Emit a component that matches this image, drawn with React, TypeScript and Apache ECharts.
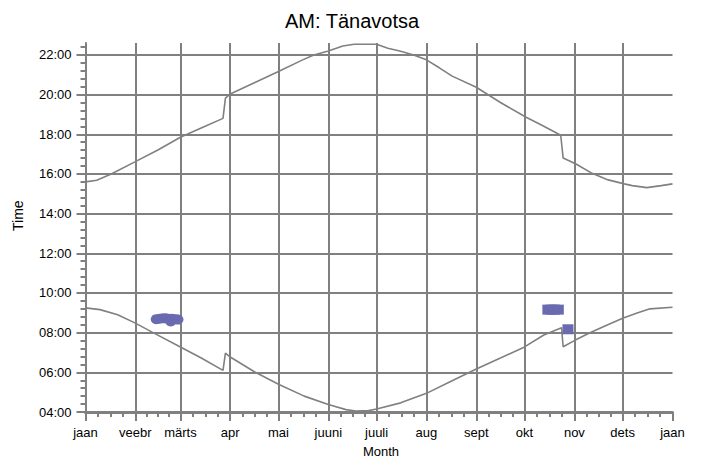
import React, { useEffect, useRef } from 'react';
import * as echarts from 'echarts';

// Month boundaries (day of year) and Estonian month labels
const monthStarts = [0, 31, 59, 90, 120, 151, 181, 212, 243, 273, 304, 334, 365];
const monthLabels = ['jaan', 'veebr', 'märts', 'apr', 'mai', 'juuni', 'juuli', 'aug', 'sept', 'okt', 'nov', 'dets', 'jaan'];
const hourTicks = [4, 6, 8, 10, 12, 14, 16, 18, 20, 22];

// Sunset (upper curve): day of year, hour
const sunsetDays = [0, 7, 16, 31, 45, 59, 73, 85.5, 87, 90, 105, 120, 135, 142, 151, 160, 167, 181, 188, 196, 204, 212, 220, 228, 243, 258, 274, 285, 295.5, 297, 305, 315, 325, 335, 340, 349, 358, 365];
const sunsetHours = [15.6, 15.68, 16.0, 16.62, 17.21, 17.85, 18.35, 18.8, 19.82, 20.03, 20.6, 21.16, 21.75, 22.0, 22.2, 22.45, 22.54, 22.54, 22.34, 22.18, 22.0, 21.75, 21.35, 20.93, 20.37, 19.6, 18.86, 18.4, 17.95, 16.8, 16.5, 16.03, 15.7, 15.5, 15.41, 15.31, 15.41, 15.5];

// Sunrise (lower curve): day of year, hour
const sunriseDays = [0, 9, 20, 31, 42, 59, 72, 85.5, 87, 90, 105, 120, 136, 151, 162, 168, 176, 181, 196, 212, 227, 243, 258, 273, 285, 296, 297, 304, 313, 323, 334, 343, 351, 365];
const sunriseHours = [9.25, 9.16, 8.9, 8.48, 8.0, 7.28, 6.72, 6.1, 6.97, 6.77, 6.03, 5.4, 4.8, 4.38, 4.12, 4.05, 4.07, 4.15, 4.46, 4.94, 5.54, 6.17, 6.72, 7.28, 7.88, 8.25, 7.29, 7.6, 7.97, 8.34, 8.73, 8.99, 9.2, 9.28];

// Observations (blue marks)
const obsSpringDays = [44, 46, 48, 50, 52, 53, 54, 56, 57.5];
const obsSpringHours = [8.68, 8.7, 8.72, 8.72, 8.7, 8.56, 8.7, 8.68, 8.66];
const obsAutumnDays = [287.5, 289.5, 291.5, 294, 300];
const obsAutumnHours = [9.16, 9.16, 9.16, 9.16, 8.17];

const FONT = 'Arial, "Liberation Sans", sans-serif';
const GRAY = '#808080';
const BLUE = '#6a6ab0';

function pairs(xs: number[], ys: number[]) {
  return xs.map((x, i) => [x, ys[i]]);
}

function minorDayTicks() {
  const out: number[] = [];
  for (let m = 0; m < 12; m++) {
    const a = monthStarts[m];
    const len = monthStarts[m + 1] - a;
    for (let k = 1; k < 4; k++) out.push(a + (len * k) / 4);
  }
  return out;
}

export default function App() {
  const ref = useRef<HTMLDivElement>(null);
  useEffect(() => {
    if (!ref.current) return;
    const chart = echarts.init(ref.current, undefined, { renderer: 'svg' });
    chart.setOption({
      animation: false,
      backgroundColor: '#ffffff',
      title: {
        text: 'AM: Tänavotsa',
        left: 'center',
        top: 6,
        textStyle: { fontFamily: FONT, fontSize: 20, fontWeight: 'normal', color: '#000' },
      },
      graphic: [
        {
          type: 'text',
          x: 11,
          y: 231,
          rotation: Math.PI / 2,
          style: { text: 'Time', fontFamily: FONT, fontSize: 14, fill: '#000' },
        },
      ],
      grid: { left: 85.5, right: 31.5, top: 43, bottom: 52, containLabel: false },
      xAxis: [
        {
          type: 'value',
          min: 0,
          max: 365,
          name: 'Month',
          nameLocation: 'middle',
          nameGap: 33,
          nameTextStyle: { fontFamily: FONT, fontSize: 13, color: '#000', padding: [0, 0, 0, 4] },
          axisLine: { show: true, lineStyle: { color: GRAY, width: 3 } },
          axisTick: { show: true, customValues: monthStarts, length: 9, lineStyle: { color: GRAY, width: 2 } },
          axisLabel: {
            show: true,
            customValues: monthStarts,
            margin: 14,
            fontFamily: FONT,
            fontSize: 13,
            color: '#000',
            formatter: (v: number) => {
              const i = monthStarts.indexOf(Math.round(v));
              return i >= 0 ? monthLabels[i] : '';
            },
          },
          splitLine: { show: true, showMaxLine: false, lineStyle: { color: GRAY, width: 2 } },
        },
        {
          type: 'value',
          min: 0,
          max: 365,
          position: 'bottom',
          axisLine: { show: false },
          axisTick: { show: true, customValues: minorDayTicks(), length: 5, lineStyle: { color: GRAY, width: 2 } },
          axisLabel: { show: false },
          splitLine: { show: false },
        },
      ],
      yAxis: {
        type: 'value',
        min: 4,
        max: 22.6,
        interval: 2,
        axisLine: { show: true, lineStyle: { color: GRAY, width: 2 } },
        axisTick: { show: true, customValues: hourTicks, length: 9, lineStyle: { color: GRAY, width: 2 } },
        minorTick: { show: true, splitNumber: 5, length: 5, lineStyle: { color: GRAY, width: 2 } },
        axisLabel: {
          show: true,
          customValues: hourTicks,
          margin: 14,
          fontFamily: FONT,
          fontSize: 13,
          color: '#000',
          formatter: (v: number) => (v < 10 ? '0' : '') + v + ':00',
        },
        splitLine: { show: true, lineStyle: { color: GRAY, width: 2 } },
      },
      series: [
        {
          type: 'line',
          name: 'sunset',
          data: pairs(sunsetDays, sunsetHours),
          showSymbol: false,
          symbol: 'none',
          lineStyle: { color: GRAY, width: 1.6 },
          z: 3,
        },
        {
          type: 'line',
          name: 'sunrise',
          data: pairs(sunriseDays, sunriseHours),
          showSymbol: false,
          symbol: 'none',
          lineStyle: { color: GRAY, width: 1.6 },
          z: 3,
        },
        {
          type: 'scatter',
          name: 'obs1',
          data: pairs(obsSpringDays, obsSpringHours),
          symbol: 'circle',
          symbolSize: [11, 10],
          itemStyle: { color: BLUE, opacity: 1 },
          z: 4,
        },
        {
          type: 'scatter',
          name: 'obs2',
          data: pairs(obsAutumnDays, obsAutumnHours),
          symbol: 'rect',
          symbolSize: [11, 10],
          itemStyle: { color: BLUE, opacity: 1 },
          z: 4,
        },
      ],
    });
    return () => chart.dispose();
  }, []);
  return <div ref={ref} style={{ position: 'fixed', left: 0, top: 0, width: 704, height: 464 }} />;
}
